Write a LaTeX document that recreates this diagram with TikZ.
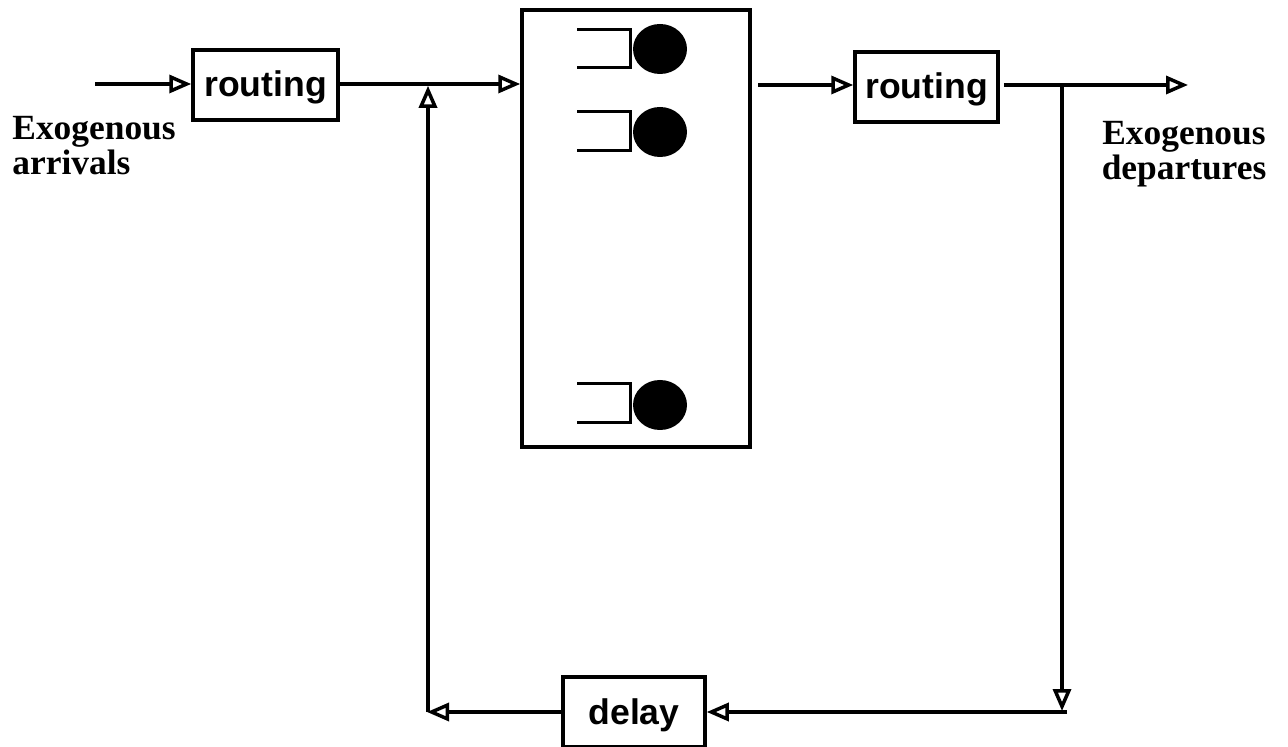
\documentclass[tikz,border=0pt]{standalone}
\usepackage{fontspec}
\setmainfont{Liberation Serif}
\newfontfamily\helv{Liberation Sans}
\usetikzlibrary{arrows.meta,shapes.geometric}

\begin{document}
\begin{tikzpicture}[x=0.5pt,y=-0.5pt,
  wire/.style={line width=1.75pt, -{Triangle[open,length=11pt,width=9pt]}},
  plain/.style={line width=1.75pt},
  buffer/.style={line width=1.5pt},
  blockbox/.style={draw, line width=1.75pt, inner sep=0pt,
    text height=14pt, text depth=2pt,
    font=\helv\bfseries\fontsize{17.8}{20}\selectfont},
  station/.style={draw, line width=1.75pt, inner sep=0pt,
    minimum width=114pt, minimum height=218.5pt},
  server/.style={ellipse, fill=black, inner sep=0pt,
    minimum width=27pt, minimum height=25pt},
  extlabel/.style={font=\bfseries\fontsize{17.7}{17.5}\selectfont, inner sep=0pt}
]
\useasboundingbox (0,0) rectangle (1288,747);

% blocks
\node[blockbox, minimum width=72.5pt, minimum height=35pt] (r1) at (265.5,85) {routing};
\node[blockbox, minimum width=71.5pt, minimum height=35pt] (r2) at (926.5,87) {routing};
\node[blockbox, minimum width=71pt, minimum height=35pt] (d) at (634,712) {delay};
\node[station] (q) at (636,228.5) {};

% servers with their buffers
\node[server] (s1) at (660,49) {};
\node[server] (s2) at (660,132) {};
\node[server] (s3) at (660,405) {};
\draw[buffer] (577,30) -| (630,68) -- (577,68);
\draw[buffer] (577,112) -| (630,151) -- (577,151);
\draw[buffer] (577,384) -| (630,423) -- (577,423);

% labels
\node[extlabel, anchor=west, align=left] (arr) at (12,146) {Exogenous\\arrivals};
\node[extlabel, align=center] (dep) at (1184,154) {Exogenous\\departures};

% connector points
\coordinate (src) at (95,84);
\coordinate (j1) at (428,84);
\coordinate (qo) at (758,85);
\coordinate (sink) at (1188,85);
\coordinate (j2) at (1062,85);
\coordinate (c3) at (1062,711);
\coordinate (c4) at (1067,712);
\coordinate (c1) at (427,712);
\coordinate (c2) at (428,712);

% main flow
\draw[wire] (src) -- (src -| r1.west);
\draw[plain] (r1.east |- src) -- (j1);
\draw[wire] (j1) -- (j1 -| q.west);
\draw[wire] (qo) -- (qo -| r2.west);
\draw[wire, shorten <=2pt] (r2.east |- qo) -- (sink);

% feedback loop
\draw[wire] (j2) -- (c3);
\draw[wire] (c4) -- (c4 -| d.east);
\draw[wire] (d.west |- c4) -- (c1);
\draw[wire, shorten >=0.9pt] (c2) -- (j1);
\end{tikzpicture}
\end{document}
